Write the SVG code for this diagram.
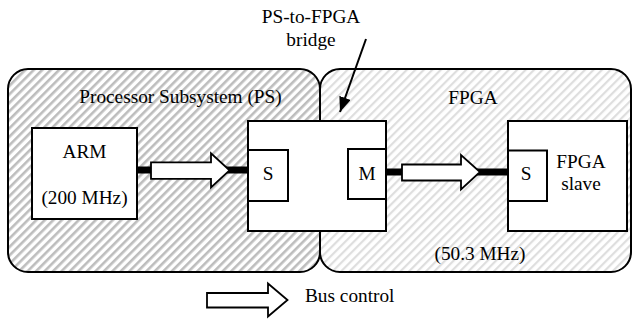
<svg xmlns="http://www.w3.org/2000/svg" width="633" height="322" viewBox="0 0 633 322" font-family="'Liberation Serif', 'DejaVu Serif', serif">
<style>
  text { font-family: "Liberation Serif", "DejaVu Serif", serif; font-size: 19.3px; fill: #000; }
  .mid { text-anchor: middle; }
  .region { stroke: #000; stroke-width: 2; }
  .box { fill: #fff; stroke: #000; stroke-width: 2; }
  .bar { stroke: #000; stroke-width: 7; fill: none; }
  .hollow { fill: #fff; stroke: #000; stroke-width: 1.8; stroke-linejoin: miter; }
</style>
<defs>
  <pattern id="hatchPS" patternUnits="userSpaceOnUse" width="6" height="6" patternTransform="rotate(45)">
    <rect width="6" height="6" fill="#fff"/>
    <rect x="0" y="0" width="2.6" height="6" fill="#bdbdbd"/>
  </pattern>
  <pattern id="hatchFPGA" patternUnits="userSpaceOnUse" width="6" height="6" patternTransform="rotate(45)">
    <rect width="6" height="6" fill="#fff"/>
    <rect x="0" y="0" width="2.2" height="6" fill="#dedede"/>
  </pattern>
  <marker id="leadHead" markerWidth="16" markerHeight="12" refX="15" refY="6" orient="auto" markerUnits="userSpaceOnUse">
    <path d="M0,0 L15,6 L0,12 Z" fill="#000"/>
  </marker>
</defs>

<g id="ps-region">
  <rect class="region" x="8" y="69" width="312" height="203" rx="20" ry="20" fill="url(#hatchPS)"/>
  <text class="mid" x="180.5" y="102.5">Processor Subsystem (PS)</text>
</g>

<g id="fpga-region">
  <rect class="region" x="320" y="69" width="311" height="203" rx="20" ry="20" fill="url(#hatchFPGA)"/>
  <text class="mid" x="473" y="104">FPGA</text>
  <text class="mid" x="480" y="260">(50.3 MHz)</text>
</g>

<g id="arm">
  <rect class="box" x="32" y="128" width="105" height="91"/>
  <text class="mid" x="84.5" y="158">ARM</text>
  <text class="mid" x="84.5" y="204">(200 MHz)</text>
</g>

<g id="bridge">
  <rect class="box" x="248" y="121" width="138" height="110"/>
  <g id="bridge-s">
    <rect class="box" x="248" y="150" width="40" height="51"/>
    <text class="mid" x="268" y="180">S</text>
  </g>
  <g id="bridge-m">
    <rect class="box" x="348" y="149" width="38" height="50"/>
    <text class="mid" x="367" y="180">M</text>
  </g>
</g>

<g id="fpga-slave">
  <rect class="box" x="508" y="121" width="119" height="110"/>
  <text class="mid" x="581" y="167.5">FPGA</text>
  <text class="mid" x="581" y="190">slave</text>
  <g id="slave-s">
    <rect class="box" x="508" y="150.5" width="39" height="50.5"/>
    <text class="mid" x="526" y="180">S</text>
  </g>
</g>

<g id="bridge-label">
  <text class="mid" x="311" y="23.3">PS-to-FPGA</text>
  <text class="mid" x="311" y="45.5">bridge</text>
</g>

<g id="connectors">
  <line class="bar" x1="137" y1="170" x2="248" y2="170"/>
  <polygon class="hollow" points="151,162.3 211,162.3 211,153.3 229.5,170.3 211,187.5 211,178.8 151,178.8"/>
  <line class="bar" x1="386" y1="172" x2="508" y2="172"/>
  <polygon class="hollow" points="402,164.5 461,164.5 461,155 480,172 461,189.5 461,180.5 402,180.5"/>
  <line x1="366" y1="39" x2="340" y2="112" stroke="#000" stroke-width="2" marker-end="url(#leadHead)"/>
</g>

<g id="legend">
  <polygon class="hollow" points="207,293 268,293 268,283.5 287.5,300 268,316.5 268,307.5 207,307.5"/>
  <text x="305" y="302">Bus control</text>
</g>
</svg>
